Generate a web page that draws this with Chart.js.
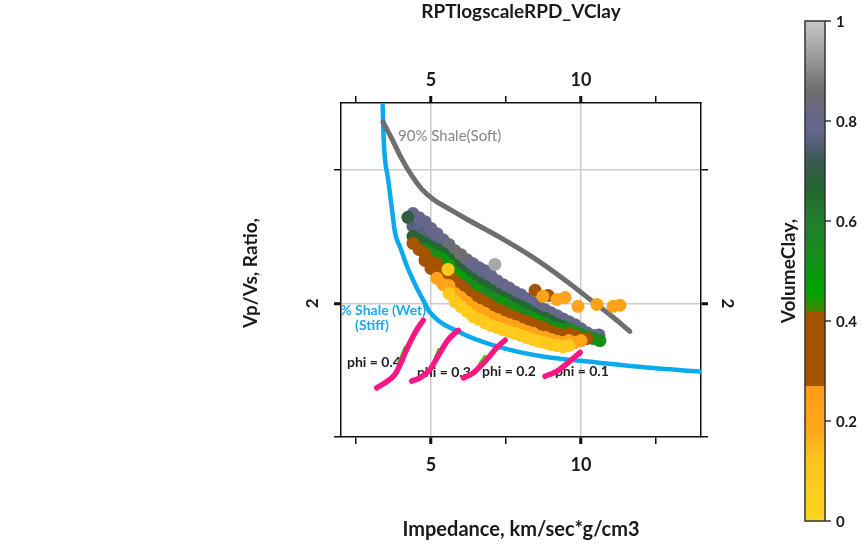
<!DOCTYPE html>
<html>
<head>
<meta charset="utf-8">
<title>RPTlogscaleRPD_VClay</title>
<script src="https://cdn.jsdelivr.net/npm/chart.js@4.4.1/dist/chart.umd.min.js"></script>
<style>
  body { margin: 0; background: #fff; }
  canvas { display: block; }
</style>
</head>
<body>
<canvas id="rpt" width="866" height="548"></canvas>
<script>
// Ejes: impedancia (x) y Vp/Vs (y)
const xTicks = [2.5, 5, 7.5, 10, 12.5];
const xTickLabels = ['', '5', '', '10', ''];
const yTicks = [1.5, 2, 2.5];
const yTickLabels = ['', '2', ''];
const cbTicks = [0, 0.2, 0.4, 0.6, 0.8, 1];

// Escala de color de VolumeClay (valor, color)
const clayStops = [
  [0.00, '#FFD41E'], [0.12, '#FFC51C'], [0.18, '#FFA71A'], [0.27, '#FF9D18'],
  [0.27, '#A65400'], [0.42, '#A65400'], [0.42, '#3C8C00'], [0.46, '#00A300'],
  [0.52, '#149018'], [0.60, '#1F7F2C'], [0.67, '#22652F'], [0.72, '#3B5A52'],
  [0.78, '#646690'], [0.82, '#676785'], [0.86, '#6E6E6E'], [1.00, '#C8C8C8']
];

// Curvas de los modelos de roca
const shaleSoft = [[3.40,2.679],[3.70,2.615],[4.03,2.540],[4.37,2.476],[4.70,2.427],[5.07,2.390],[5.63,2.352],[6.20,2.315],[7.30,2.247],[8.40,2.172],[9.53,2.082],[10.30,2.015],[11.07,1.948],[11.63,1.895]];
const shaleStiff = [[3.38,2.770],[3.43,2.596],[3.57,2.465],[3.70,2.352],[3.80,2.266],[4.00,2.202],[4.20,2.139],[4.47,2.071],[4.73,2.015],[4.97,1.966],[5.97,1.891],[7.20,1.839],[8.73,1.801],[10.53,1.779],[12.20,1.760],[13.97,1.745],[14.2,1.743]];
const phi04 = [[3.19,1.684],[3.47,1.703],[3.80,1.734],[3.97,1.771],[4.19,1.828],[4.47,1.891],[4.74,1.937]];
const phi03 = [[4.36,1.709],[4.63,1.721],[4.97,1.753],[5.30,1.816],[5.58,1.865],[5.91,1.899]];
const phi02 = [[6.08,1.721],[6.41,1.740],[6.86,1.790],[7.19,1.834],[7.47,1.862]];
const phi01 = [[8.80,1.727],[9.19,1.746],[9.63,1.784],[9.97,1.817]];
const gas04 = [[3.95,1.780],[4.15,1.835]];
const gas03 = [[5.08,1.770],[5.26,1.825]];
const gas02 = [[6.62,1.770],[6.80,1.800]];

// Pozo: [impedancia, vp/vs, vclay]
const slateTop = [[4.4,2.336,0.80],[4.6,2.321,0.80],[4.8,2.306,0.79],[5.0,2.280,0.80],[5.2,2.261,0.80],[5.4,2.238,0.81],[5.6,2.220,0.84],[5.8,2.197,0.86],[6.0,2.182,0.86],[6.2,2.163,0.84],[6.4,2.148,0.80],[6.6,2.133,0.80],[6.8,2.122,0.79],[7.0,2.103,0.80],[7.2,2.085,0.80],[7.4,2.070,0.79],[7.6,2.058,0.80],[7.8,2.043,0.80],[8.0,2.032,0.79],[8.2,2.017,0.80],[8.4,2.002,0.80],[8.6,1.987,0.79],[8.8,1.976,0.80],[9.0,1.965,0.80],[9.2,1.954,0.79],[9.4,1.942,0.80],[9.6,1.931,0.80],[9.8,1.920,0.79],[10.0,1.905,0.80],[10.2,1.890,0.80],[10.4,1.880,0.80],[10.6,1.882,0.80]];
const slateLow = [[4.4,2.289,0.76],[4.6,2.274,0.77],[4.8,2.259,0.76],[5.0,2.240,0.77],[5.2,2.229,0.76],[5.4,2.210,0.77],[5.6,2.191,0.78],[5.8,2.169,0.78],[6.0,2.150,0.77],[6.2,2.131,0.78],[6.4,2.116,0.77],[6.6,2.101,0.78],[6.8,2.090,0.77],[7.0,2.075,0.78],[7.2,2.056,0.77],[7.4,2.045,0.78],[7.6,2.034,0.77],[7.8,2.019,0.78],[8.0,2.011,0.77],[8.2,1.996,0.78],[8.4,1.985,0.77]];
const darkGreen = [[4.23,2.322,0.70],[4.4,2.251,0.68],[4.6,2.236,0.66],[4.8,2.225,0.66],[5.0,2.210,0.65],[5.2,2.202,0.66],[5.4,2.187,0.66],[5.6,2.165,0.65],[5.8,2.142,0.66],[6.0,2.124,0.70],[6.2,2.105,0.66],[6.4,2.090,0.65],[6.6,2.075,0.70],[6.8,2.064,0.66],[7.0,2.049,0.65],[7.2,2.034,0.70],[7.4,2.022,0.66],[7.6,2.011,0.65],[7.8,2.000,0.70],[8.0,1.989,0.66],[8.2,1.978,0.65],[8.4,1.963,0.66],[8.6,1.951,0.70],[8.8,1.944,0.66],[9.0,1.933,0.65],[9.2,1.921,0.66],[9.4,1.914,0.66]];
const greenPts = [[4.8,2.202,0.56],[5.0,2.187,0.55],[5.2,2.176,0.52],[5.2,2.135,0.47],[5.4,2.165,0.50],[5.4,2.127,0.48],[5.6,2.142,0.47],[5.8,2.116,0.50],[6.0,2.097,0.47],[6.2,2.079,0.52],[6.4,2.064,0.55],[6.6,2.049,0.50],[6.8,2.037,0.56],[7.0,2.022,0.52],[7.2,2.011,0.55],[7.4,2.000,0.47],[7.6,1.989,0.56],[7.8,1.978,0.52],[8.0,1.966,0.55],[8.2,1.955,0.56],[8.4,1.944,0.50],[8.6,1.933,0.47],[8.8,1.925,0.55],[9.0,1.914,0.56],[9.2,1.906,0.50],[9.4,1.899,0.47],[9.6,1.906,0.55],[9.8,1.895,0.52],[10.0,1.884,0.56],[10.2,1.876,0.50],[10.4,1.869,0.55],[10.63,1.861,0.52]];
const brownPts = [[4.4,2.225,0.35],[4.6,2.202,0.35],[4.8,2.184,0.36],[4.8,2.161,0.34],[5.0,2.155,0.35],[5.0,2.131,0.35],[5.2,2.148,0.36],[5.2,2.116,0.35],[5.4,2.114,0.35],[5.4,2.090,0.34],[5.6,2.110,0.35],[5.6,2.094,0.35],[5.8,2.084,0.36],[5.8,2.064,0.35],[6.0,2.065,0.35],[6.0,2.049,0.34],[6.2,2.046,0.35],[6.2,2.030,0.35],[6.4,2.028,0.36],[6.4,2.011,0.35],[6.6,2.016,0.35],[6.6,2.000,0.34],[6.8,2.005,0.35],[6.8,1.989,0.35],[7.0,1.990,0.36],[7.0,1.974,0.35],[7.2,1.979,0.35],[7.2,1.963,0.34],[7.4,1.968,0.35],[7.4,1.951,0.35],[7.6,1.957,0.36],[7.6,1.944,0.35],[7.8,1.949,0.35],[7.8,1.933,0.34],[8.0,1.938,0.35],[8.0,1.925,0.35],[8.2,1.933,0.36],[8.2,1.914,0.35],[8.4,1.921,0.35],[8.4,1.906,0.34],[8.6,1.914,0.35],[8.6,1.895,0.35],[8.8,1.906,0.36],[8.8,1.888,0.35],[9.0,1.895,0.35],[9.0,1.880,0.34],[9.2,1.888,0.35],[9.2,1.873,0.35],[9.4,1.880,0.36],[9.4,1.869,0.35],[9.6,1.888,0.35],[9.6,1.873,0.34],[9.8,1.880,0.35],[9.8,1.869,0.35],[10.0,1.869,0.36],[10.2,1.869,0.35]];
const orangePts = [[5.2,2.094,0.22],[5.4,2.071,0.22],[5.6,2.067,0.21],[5.8,2.037,0.22],[6.0,2.022,0.20],[6.2,2.004,0.22],[6.4,1.985,0.22],[6.6,1.974,0.21],[6.8,1.963,0.22],[7.0,1.948,0.20],[7.2,1.940,0.22],[7.4,1.929,0.22],[7.6,1.921,0.21],[7.8,1.914,0.22],[8.0,1.903,0.20],[8.2,1.895,0.22],[8.4,1.888,0.22],[8.6,1.876,0.21],[8.8,1.873,0.22],[9.0,1.865,0.20],[9.2,1.858,0.22],[9.4,1.854,0.22],[9.6,1.861,0.21],[9.8,1.854,0.22],[10.0,1.861,0.22]];
const yellowPts = [[5.6,2.037,0.08],[5.8,2.007,0.10],[6.0,1.988,0.08],[6.2,1.970,0.06],[6.4,1.951,0.08],[6.6,1.940,0.10],[6.8,1.928,0.08],[7.0,1.917,0.06],[7.2,1.910,0.08],[7.4,1.902,0.10],[7.6,1.895,0.08],[7.8,1.887,0.06],[8.0,1.880,0.08],[8.2,1.872,0.10],[8.4,1.865,0.08],[8.6,1.857,0.06],[8.8,1.853,0.08],[9.0,1.846,0.10],[9.2,1.842,0.08],[9.4,1.838,0.06],[9.6,1.842,0.08]];
const loosePts = [[7.13,2.146,0.95],[5.57,2.127,0.10],[8.47,2.049,0.34],[8.90,2.030,0.34],[8.73,2.026,0.22],[9.20,2.015,0.22],[9.47,2.022,0.22],[9.90,1.989,0.22],[10.53,1.996,0.22],[11.07,1.989,0.22],[11.30,1.993,0.22]];

const FONT = 'Lato, "Open Sans", sans-serif';

// Convierte un valor de arcilla en color interpolando la escala
function hexRgb(h) {
  return [parseInt(h.slice(1, 3), 16), parseInt(h.slice(3, 5), 16), parseInt(h.slice(5, 7), 16)];
}
function clayColor(v) {
  for (let i = 1; i < clayStops.length; i++) {
    const [v0, c0] = clayStops[i - 1];
    const [v1, c1] = clayStops[i];
    if (v <= v1) {
      const t = v1 === v0 ? 1 : (v - v0) / (v1 - v0);
      const a = hexRgb(c0), b = hexRgb(c1);
      return 'rgb(' + a.map((c, k) => Math.round(c + (b[k] - c) * t)).join(',') + ')';
    }
  }
  return clayStops[clayStops.length - 1][1];
}

const toXY = arr => arr.map(p => ({ x: p[0], y: p[1] }));
const cloud = [].concat(slateLow, slateTop, darkGreen, greenPts, brownPts, orangePts, yellowPts, loosePts)
  .map(p => ({ x: p[0], y: p[1], v: p[2] }));

function linea(data, color, width, order) {
  return {
    data: toXY(data), showLine: true, borderColor: color, borderWidth: width,
    pointRadius: 0, borderCapStyle: 'round', borderJoinStyle: 'round',
    cubicInterpolationMode: 'monotone', order: order
  };
}

// Textos dentro del area del grafico [texto, x, y, color, fuente, alineacion]
const notas = [
  ['90% Shale(Soft)', 3.9, 2.626, '#858585', '15px ' + FONT, 'left'],
  ['100% Shale (Wet)', 3.0, 1.974, '#1AA8EE', 'bold 14px ' + FONT, 'center'],
  ['(Stiff)', 3.03, 1.918, '#1AA8EE', 'bold 14px ' + FONT, 'center'],
  ['phi = 0.4', 2.2, 1.779, '#222', 'bold 14px ' + FONT, 'left'],
  ['phi = 0.3', 4.53, 1.741, '#222', 'bold 14px ' + FONT, 'left'],
  ['phi = 0.2', 6.7, 1.745, '#222', 'bold 14px ' + FONT, 'left'],
  ['phi = 0.1', 9.13, 1.745, '#222', 'bold 14px ' + FONT, 'left']
];

const rotulos = {
  id: 'rotulos',
  beforeDatasetsDraw(chart) {
    const { ctx, chartArea: a, scales } = chart;
    ctx.save();
    ctx.beginPath();
    ctx.rect(a.left, a.top, a.right - a.left, a.bottom - a.top);
    ctx.clip();
    ctx.textBaseline = 'middle';
    notas.forEach(n => {
      ctx.font = n[4];
      ctx.fillStyle = n[3];
      ctx.textAlign = n[5];
      ctx.fillText(n[0], scales.x.getPixelForValue(n[1]), scales.y.getPixelForValue(n[2]));
    });
    ctx.restore();
  },
  afterDraw(chart) {
    const { ctx, chartArea: a, scales } = chart;
    const midX = (a.left + a.right) / 2, midY = (a.top + a.bottom) / 2;
    ctx.save();
    ctx.fillStyle = '#1a1a1a';
    ctx.textAlign = 'center';
    ctx.textBaseline = 'middle';
    ctx.font = 'bold 19px ' + FONT;
    ctx.fillText('RPTlogscaleRPD_VClay', midX, 12);
    ctx.font = 'bold 20px ' + FONT;
    ctx.fillText('Impedance, km/sec*g/cm3', midX, 530);

    ctx.save();
    ctx.font = 'bold 19px ' + FONT;
    ctx.translate(251, midY + 3);
    ctx.rotate(-Math.PI / 2);
    ctx.fillText('Vp/Vs, Ratio,', 0, 0);
    ctx.restore();

    // etiquetas del eje y giradas
    ctx.font = 'bold 17px ' + FONT;
    yTicks.forEach((v, i) => {
      if (!yTickLabels[i]) return;
      const py = scales.y.getPixelForValue(v);
      ctx.save();
      ctx.translate(scales.y.right - 28, py);
      ctx.rotate(-Math.PI / 2);
      ctx.fillText(yTickLabels[i], 0, 0);
      ctx.restore();
      ctx.save();
      ctx.translate(scales.y2.left + 26, py);
      ctx.rotate(Math.PI / 2);
      ctx.fillText(yTickLabels[i], 0, 0);
      ctx.restore();
    });

    // barra de color
    const cb = { left: 805, top: 21, width: 20, height: 500 };
    const grad = ctx.createLinearGradient(0, cb.top + cb.height, 0, cb.top);
    clayStops.forEach(s => grad.addColorStop(s[0], s[1]));
    ctx.fillStyle = grad;
    ctx.fillRect(cb.left, cb.top, cb.width, cb.height);
    ctx.strokeStyle = '#333';
    ctx.lineWidth = 1.5;
    ctx.strokeRect(cb.left, cb.top, cb.width, cb.height);
    ctx.fillStyle = '#1a1a1a';
    ctx.font = 'bold 15px ' + FONT;
    ctx.textAlign = 'left';
    cbTicks.forEach(v => {
      const py = cb.top + cb.height * (1 - v);
      ctx.beginPath();
      ctx.moveTo(cb.left + cb.width, py);
      ctx.lineTo(cb.left + cb.width + 6, py);
      ctx.stroke();
      ctx.fillText(String(v), cb.left + cb.width + 11, py + 1);
    });
    ctx.save();
    ctx.translate(789, cb.top + cb.height / 2);
    ctx.rotate(-Math.PI / 2);
    ctx.textAlign = 'center';
    ctx.font = 'bold 19px ' + FONT;
    ctx.fillText('VolumeClay,', 0, 0);
    ctx.restore();
    ctx.restore();
  }
};

const GRID = '#cccccc';
const NONE = 'rgba(0,0,0,0)';

function ejeX(pos) {
  return {
    type: 'linear', position: pos, min: 2, max: 14,
    afterBuildTicks: s => { s.ticks = xTicks.map(v => ({ value: v })); },
    afterFit: s => { s.height = pos === 'bottom' ? 111 : 103; },
    ticks: {
      autoSkip: false, maxRotation: 0, minRotation: 0,
      callback: (v, i) => xTickLabels[i],
      color: '#1a1a1a', font: { family: FONT, size: 18, weight: 'bold' },
      padding: pos === 'bottom' ? 10 : 5
    },
    grid: {
      drawOnChartArea: pos === 'bottom',
      color: c => xTickLabels[c.index] ? GRID : NONE,
      lineWidth: 1.5, tickLength: 7, tickColor: '#111',
      tickWidth: c => xTickLabels[c.index] ? 3 : 1.5
    },
    border: { color: '#111', width: 1.5 }
  };
}

function ejeY(pos) {
  return {
    type: 'linear', position: pos, min: 1.5, max: 2.75,
    afterBuildTicks: s => { s.ticks = yTicks.map(v => ({ value: v })); },
    afterFit: s => { s.width = pos === 'left' ? 341 : 165; },
    ticks: { display: false },
    grid: {
      drawOnChartArea: pos === 'left',
      color: c => (c.tick && c.tick.value > 1.5) ? GRID : NONE,
      lineWidth: 1.5, tickLength: 7, tickColor: '#111',
      tickWidth: c => yTickLabels[c.index] ? 3 : 1.5
    },
    border: { color: '#111', width: 1.5 }
  };
}

new Chart(document.getElementById('rpt'), {
  type: 'scatter',
  data: {
    datasets: [
      linea(phi04, '#FA1683', 5.5, 1),
      linea(phi03, '#FA1683', 5.5, 1),
      linea(phi02, '#FA1683', 5.5, 1),
      linea(phi01, '#FA1683', 5.5, 1),
      linea(gas04, '#2EE01A', 4, 2),
      linea(gas03, '#2EE01A', 4, 2),
      linea(gas02, '#2EE01A', 4, 2),
      {
        data: cloud, order: 3, showLine: false,
        pointRadius: 6.5, pointHoverRadius: 6.5, pointBorderWidth: 0,
        pointBackgroundColor: cloud.map(p => clayColor(p.v)),
        pointBorderColor: cloud.map(p => clayColor(p.v))
      },
      linea(shaleSoft, '#6E6E6E', 5, 4),
      linea(shaleStiff, '#0BA9EE', 4.5, 5)
    ]
  },
  options: {
    responsive: false,
    animation: false,
    events: [],
    layout: { padding: 0 },
    plugins: { legend: { display: false }, tooltip: { enabled: false }, title: { display: false } },
    scales: {
      x: ejeX('bottom'),
      x2: ejeX('top'),
      y: ejeY('left'),
      y2: ejeY('right')
    }
  },
  plugins: [rotulos]
});
</script>
</body>
</html>
